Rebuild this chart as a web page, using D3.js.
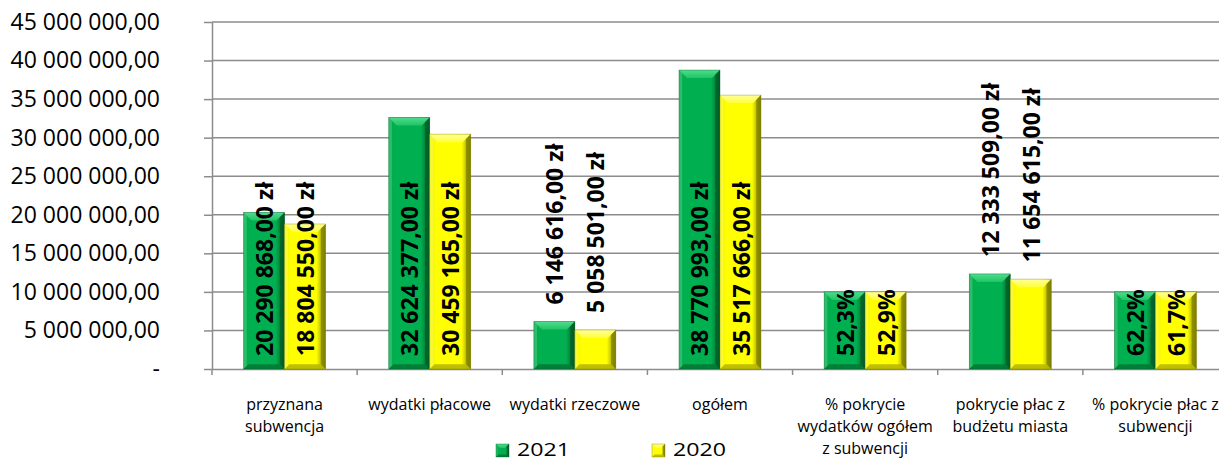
<!DOCTYPE html>
<html><head><meta charset="utf-8">
<script src="https://cdn.jsdelivr.net/npm/d3@7"></script>
<style>body{margin:0;background:#fff;}svg{display:block;}</style>
</head><body>
<svg id="c" width="1219" height="463"></svg>
<script>
const categories = ["przyznana\nsubwencja","wydatki płacowe","wydatki rzeczowe","ogółem","% pokrycie\nwydatków ogółem\nz subwencji","pokrycie płac z\nbudżetu miasta","% pokrycie płac z\nsubwencji"];
const series = ["2021","2020"];
const values2021 = [20290868, 32624377, 6146616, 38770993, 10000000, 12333509, 10000000];
const values2020 = [18804550, 30459165, 5058501, 35517666, 10000000, 11654615, 10000000];
const percent2021 = [null, null, null, null, 0.523, null, 0.622];
const percent2020 = [null, null, null, null, 0.529, null, 0.617];
const yTicks = [0,5e6,10e6,15e6,20e6,25e6,30e6,35e6,40e6,45e6];
const outsideLabelCats = ["wydatki rzeczowe","pokrycie płac z\nbudżetu miasta"];

const pl = d3.formatLocale({decimal:",", thousands:" ", grouping:[3], currency:[""," zł"]});
const fmtAxis = v => v === 0 ? "-" : pl.format(",.2f")(v);
const fmtMoney = v => pl.format(",.2f")(v) + " zł";
const fmtPct = v => pl.format(".1%")(v);

const svg = d3.select("#c");
const m = {left:212, right:1228, top:22, bottom:369};
const x = d3.scaleBand().domain(categories).range([m.left, m.right]).paddingInner(0).paddingOuter(0);
const y = d3.scaleLinear().domain([0,45e6]).range([m.bottom, m.top]);
const groupW = x.bandwidth()*0.565;
const xs = d3.scaleBand().domain(series).range([0, groupW]);

const colors = {
  "2021": {base:"#00b050", light:"#7be3a4", top1:"#4fdc8c", top2:"#20c466", dark:"#005d27", bottom:"#007a35", left:"#05a84b", stroke:"#005a25"},
  "2020": {base:"#ffff00", light:"#ffffa0", top1:"#ffff9a", top2:"#ffff3a", dark:"#7e7e00", bottom:"#b8b800", left:"#f0f000", stroke:"#808000"}
};
const defs = svg.append("defs");
series.forEach(s => {
  const c = colors[s];
  const g = defs.append("linearGradient").attr("id","h"+s).attr("x1",0).attr("x2",1).attr("y1",0).attr("y2",0);
  g.append("stop").attr("offset","0%").attr("stop-color",c.left);
  g.append("stop").attr("offset","15%").attr("stop-color",c.base);
  g.append("stop").attr("offset","78%").attr("stop-color",c.base);
  g.append("stop").attr("offset","100%").attr("stop-color",c.dark);
  const t = defs.append("linearGradient").attr("id","t"+s).attr("x1",0).attr("x2",0).attr("y1",0).attr("y2",1);
  t.append("stop").attr("offset","0%").attr("stop-color",c.top1);
  t.append("stop").attr("offset","100%").attr("stop-color",c.top2);
});

// gridlines
svg.append("g").selectAll("line").data(yTicks.filter(d=>d>0)).join("line")
  .attr("x1",m.left).attr("x2",m.right).attr("y1",d=>y(d)).attr("y2",d=>y(d))
  .attr("stroke","#8c8c8c").attr("stroke-width",1.5);

// y axis
const yAxis = d3.axisLeft(y).tickValues(yTicks).tickFormat(fmtAxis).tickSize(8).tickSizeOuter(0).tickPadding(44);
const ya = svg.append("g").attr("transform",`translate(${m.left},0)`).call(yAxis);
ya.select(".domain").attr("stroke","#8c8c8c").attr("stroke-width",1.5);
ya.selectAll(".tick line").attr("stroke","#8c8c8c").attr("stroke-width",1.5);
ya.selectAll(".tick text").attr("font-family","'Open Sans'").attr("font-size","23px").attr("fill","#000");

// x axis
const xAxis = d3.axisBottom(x).tickSize(0).tickFormat("");
const xa = svg.append("g").attr("transform",`translate(0,${m.bottom})`).call(xAxis);
xa.select(".domain").attr("stroke","#8c8c8c").attr("stroke-width",1.5);
xa.append("g").selectAll("line").data(categories.concat(["end"])).join("line")
  .attr("x1",(d,i)=> i<categories.length ? x(d) : m.right).attr("x2",(d,i)=> i<categories.length ? x(d) : m.right)
  .attr("y1",0).attr("y2",6).attr("stroke","#8c8c8c").attr("stroke-width",1.5);

// category labels
const cl = svg.append("g").selectAll("text").data(categories).join("text")
  .attr("x",d=>x(d)+x.bandwidth()/2).attr("y",410)
  .attr("text-anchor","middle").attr("font-family","'Open Sans'").attr("font-size","16px").attr("fill","#000");
cl.each(function(d){
  const lines = d.split("\n");
  d3.select(this).selectAll("tspan").data(lines).join("tspan")
    .attr("x",x(d)+x.bandwidth()/2).attr("dy",(l,i)=> i===0?0:22).text(l=>l);
});

// bars
function bevelBar(g, bx, by, w, h, s, bv){
  const c = colors[s];
  const b = Math.min(bv, h/2);
  g.append("rect").attr("x",bx).attr("y",by).attr("width",w).attr("height",h).attr("fill",`url(#h${s})`);
  g.append("polygon").attr("points",[[bx,by],[bx+w,by],[bx+w-b,by+b],[bx+b,by+b]].join(" ")).attr("fill",`url(#t${s})`);
  g.append("polygon").attr("points",[[bx+w,by],[bx+w,by+h],[bx+w-b*0.6,by+h-b*0.6],[bx+w-b*0.6,by+b*0.6]].join(" ")).attr("fill",c.dark).attr("opacity",0.7);
  g.append("polygon").attr("points",[[bx,by+h],[bx+w,by+h],[bx+w-b*0.6,by+h-b*0.6],[bx+b*0.6,by+h-b*0.6]].join(" ")).attr("fill",c.bottom).attr("opacity",0.9);
  g.append("polygon").attr("points",[[bx,by],[bx+b*0.4,by+b*0.4],[bx+b*0.4,by+h-b*0.4],[bx,by+h]].join(" ")).attr("fill",c.light).attr("opacity",0.35);
  g.append("rect").attr("x",bx).attr("y",by).attr("width",w).attr("height",h).attr("fill","none").attr("stroke",c.stroke).attr("stroke-width",0.7).attr("stroke-opacity",0.5);
}

const data = [];
categories.forEach((cat,i)=>{
  data.push({cat, s:"2021", v:values2021[i], pct:percent2021[i]});
  data.push({cat, s:"2020", v:values2020[i], pct:percent2020[i]});
});
const off = (x.bandwidth()-groupW)/2;
const bars = svg.append("g");
data.forEach(d=>{
  const bx = x(d.cat)+off+xs(d.s);
  const by = y(d.v);
  bevelBar(bars, bx, by, xs.bandwidth(), y(0)-by, d.s, 8);
});

// labels
const lbl = svg.append("g");
data.forEach(d=>{
  const cx = x(d.cat)+off+xs(d.s)+xs.bandwidth()/2;
  const txt = d.pct!=null ? fmtPct(d.pct) : fmtMoney(d.v);
  const outside = outsideLabelCats.includes(d.cat);
  const ty = outside ? y(d.v)-17 : y(0)-13;
  lbl.append("text").attr("transform",`translate(${cx},${ty}) rotate(-90)`)
    .attr("text-anchor","start").attr("dominant-baseline","central")
    .attr("font-family","'Open Sans'").attr("font-weight","bold").attr("font-size","23px").attr("fill","#000")
    .text(txt);
});

// legend
const leg = svg.append("g");
const legPos = {"2021":496, "2020":652};
series.forEach(s=>{
  const lx = legPos[s];
  bevelBar(leg, lx, 444, 13, 13, s, 4);
  leg.append("text").attr("x",lx+21).attr("y",456).attr("font-family","'Open Sans'").attr("font-size","19px")
    .attr("textLength",53).attr("lengthAdjust","spacingAndGlyphs").attr("fill","#000").text(s);
});
</script>
</body></html>
